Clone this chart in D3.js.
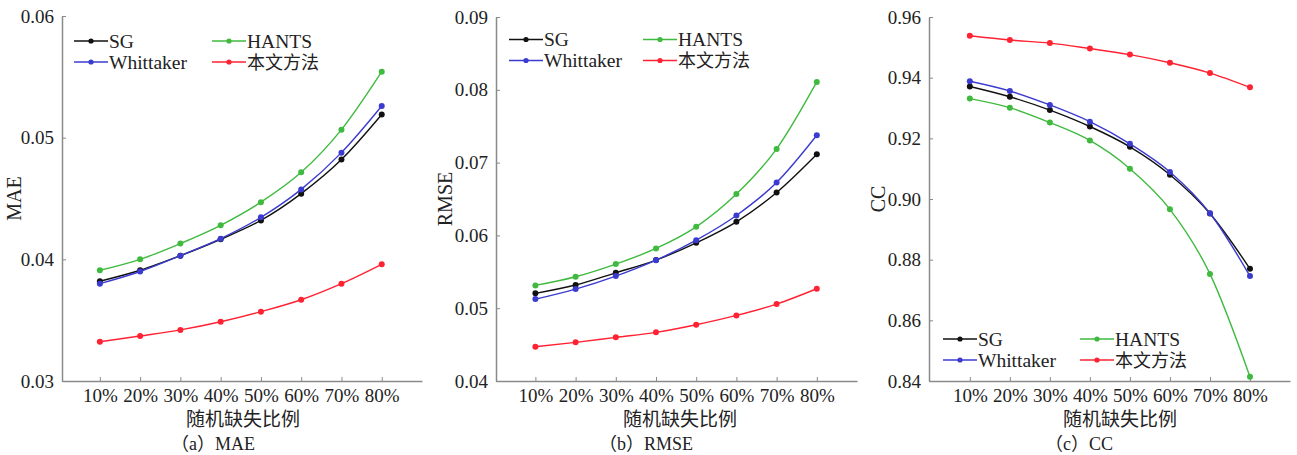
<!DOCTYPE html>
<html><head><meta charset="utf-8">
<script src="https://cdn.jsdelivr.net/npm/d3@7/dist/d3.min.js"></script>
<style>
html,body{margin:0;padding:0;background:#fff;}
svg{display:block;}
.serif{font-family:"Liberation Serif","Times New Roman","DejaVu Serif",serif;}
.cjk{font-family:"Noto Sans CJK SC","Noto Sans CJK JP",sans-serif;}
.mix{font-family:"Liberation Serif","Noto Sans CJK SC",serif;}
</style></head>
<body>
<svg id="chart" width="1297" height="455"></svg>
<script>
// ---- data ----
const categories = ["10%","20%","30%","40%","50%","60%","70%","80%"];
const seriesNames = ["SG","Whittaker","HANTS","本文方法"];
const seriesColors = ["#111111","#3b3bd0","#3fba3f","#ff2233"];

const maeSG        = [0.0382,0.0391,0.0403,0.04165,0.0432,0.0454,0.0482,0.0519];
const maeWhittaker = [0.0380,0.0390,0.0403,0.0417,0.04345,0.04575,0.04877,0.0526];
const maeHANTS     = [0.0391,0.0400,0.0413,0.0428,0.0447,0.04715,0.05066,0.05542];
const maeOurs      = [0.03323,0.0337,0.0342,0.03487,0.0357,0.03668,0.0380,0.03959];

const rmseSG        = [0.05204,0.05318,0.05486,0.05661,0.05898,0.06187,0.0659,0.07116];
const rmseWhittaker = [0.05125,0.05263,0.05441,0.0566,0.05935,0.06274,0.06727,0.07376];
const rmseHANTS     = [0.05313,0.05432,0.05606,0.05821,0.06118,0.06567,0.07188,0.08108];
const rmseOurs      = [0.04471,0.04531,0.0460,0.04668,0.04773,0.04901,0.05057,0.05267];

const ccSG        = [0.9371,0.9337,0.9293,0.9239,0.9172,0.9080,0.8952,0.8770];
const ccWhittaker = [0.9388,0.9356,0.9310,0.9255,0.9182,0.9089,0.8953,0.8746];
const ccHANTS     = [0.9331,0.9301,0.9252,0.9193,0.9100,0.8966,0.8753,0.8414];
const ccOurs      = [0.9538,0.9524,0.9514,0.9496,0.9476,0.9449,0.9415,0.9368];

const maeTicks  = [0.03,0.04,0.05,0.06];
const rmseTicks = [0.04,0.05,0.06,0.07,0.08,0.09];
const ccTicks   = [0.84,0.86,0.88,0.90,0.92,0.94,0.96];

const xTitle = "随机缺失比例";

// ---- layout ----
const panels = [
  {yLabel:"MAE", capL:"a", capR:"MAE", data:[maeSG,maeWhittaker,maeHANTS,maeOurs],
   yDomain:[0.03,0.06], yTicks:maeTicks, fmt:d3.format(".2f"),
   x0:62, x1:422, xd:[0.06,9], top:16, bottom:381, yLabelX:14, capX:213, titleX:243,
   legX:74, legX2:212, legY:41},
  {yLabel:"RMSE", capL:"b", capR:"RMSE", data:[rmseSG,rmseWhittaker,rmseHANTS,rmseOurs],
   yDomain:[0.04,0.09], yTicks:rmseTicks, fmt:d3.format(".2f"),
   x0:496, x1:857, xd:[0.02,9], top:17, bottom:381, yLabelX:445, capX:646, titleX:680,
   legX:509, legX2:643, legY:39.5},
  {yLabel:"CC", capL:"c", capR:"CC", data:[ccSG,ccWhittaker,ccHANTS,ccOurs],
   yDomain:[0.84,0.96], yTicks:ccTicks, fmt:d3.format(".2f"),
   x0:929, x1:1290, xd:[-0.02,9], top:17, bottom:381, yLabelX:878, capX:1079, titleX:1120,
   legX:943, legX2:1080, legY:339}
];

const svg = d3.select("#chart");
const axisColor = "#8a8a8a";
const textColor = "#222";

panels.forEach(p => {
  const g = svg.append("g");
  const x = d3.scaleLinear().domain(p.xd).range([p.x0, p.x1]);
  const y = d3.scaleLinear().domain(p.yDomain).range([p.bottom, p.top]);

  // y axis
  const yAxis = d3.axisLeft(y).tickValues(p.yTicks).tickFormat(p.fmt).tickSizeInner(-4).tickSizeOuter(0).tickPadding(8);
  const ya = g.append("g").attr("transform",`translate(${p.x0},0)`).call(yAxis)
    .attr("font-family",null).attr("font-size",null);
  ya.select(".domain").attr("stroke",axisColor).attr("stroke-width",1.5);
  ya.selectAll(".tick line").attr("stroke",axisColor);
  ya.selectAll(".tick text").attr("class","serif").style("font-size","19px").attr("fill",textColor);

  // x axis
  const xAxis = d3.axisBottom(x).tickValues(d3.range(1,categories.length+1))
    .tickFormat(i => categories[i-1]).tickSizeInner(-4).tickSizeOuter(0).tickPadding(8);
  const xa = g.append("g").attr("transform",`translate(0,${p.bottom})`).call(xAxis)
    .attr("font-family",null).attr("font-size",null);
  xa.select(".domain").attr("stroke",axisColor).attr("stroke-width",1.5);
  xa.selectAll(".tick line").attr("stroke",axisColor);
  xa.selectAll(".tick text").attr("class","serif").style("font-size","19px").attr("fill",textColor);

  // series
  const line = d3.line().x((d,i)=>x(i+1)).y(d=>y(d)).curve(d3.curveMonotoneX);
  p.data.forEach((vals,si) => {
    g.append("path").datum(vals).attr("d",line).attr("fill","none")
      .attr("stroke",seriesColors[si]).attr("stroke-width",1.4);
    g.selectAll(null).data(vals).enter().append("circle")
      .attr("cx",(d,i)=>x(i+1)).attr("cy",d=>y(d)).attr("r",3)
      .attr("fill",seriesColors[si]);
  });

  // labels
  g.append("text").attr("transform",`translate(${p.yLabelX},${(p.top+p.bottom)/2}) rotate(-90)`)
    .attr("text-anchor","middle").attr("dominant-baseline","central")
    .attr("class","serif").style("font-size","20px").attr("fill",textColor).text(p.yLabel);
  g.append("text").attr("x",p.titleX).attr("y",426).attr("text-anchor","middle")
    .attr("class","cjk").style("font-size","19px").attr("fill",textColor).text(xTitle);
  const cap = g.append("text").attr("x",p.capX).attr("y",450).attr("text-anchor","middle")
    .attr("fill",textColor).style("font-size","18px");
  cap.append("tspan").attr("class","cjk").text("（");
  cap.append("tspan").attr("class","serif").text(p.capL);
  cap.append("tspan").attr("class","cjk").text("）");
  cap.append("tspan").attr("class","serif").text(p.capR);

  // legend: 2 columns x 2 rows, order SG, HANTS / Whittaker, 本文方法
  const legPos = [[p.legX,p.legY],[p.legX,p.legY+21],[p.legX2,p.legY],[p.legX2,p.legY+21]];
  seriesNames.forEach((name,si) => {
    const [lx,ly] = legPos[si];
    const isCJK = /[\u4e00-\u9fff]/.test(name);
    g.append("line").attr("x1",lx).attr("x2",lx+34).attr("y1",ly).attr("y2",ly)
      .attr("stroke",seriesColors[si]).attr("stroke-width",1.4);
    g.append("circle").attr("cx",lx+17).attr("cy",ly).attr("r",2.6).attr("fill",seriesColors[si]);
    g.append("text").attr("x",lx+35).attr("y",ly+6.5)
      .attr("class", isCJK ? "mix" : "serif")
      .style("font-size", isCJK ? "18px" : "19.5px").attr("fill",textColor).text(name);
  });
});
</script>
</body></html>
